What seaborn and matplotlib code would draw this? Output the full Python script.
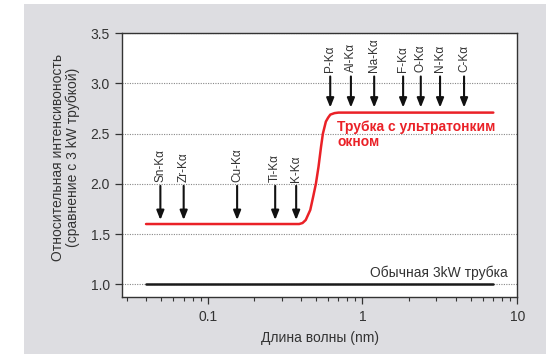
import matplotlib
matplotlib.use("Agg")
import matplotlib.pyplot as plt
from matplotlib.patches import Rectangle
from matplotlib.ticker import FixedLocator, LogLocator, NullFormatter
import seaborn as sns
import pandas as pd

# ---- data ----
red_x = [0.04, 0.39, 0.41, 0.43, 0.46, 0.48, 0.50, 0.52, 0.54, 0.555, 0.58, 0.60, 0.62, 0.66, 0.70, 7.0]
red_y = [1.60, 1.60, 1.61, 1.64, 1.74, 1.87, 2.00, 2.17, 2.37, 2.50, 2.62, 2.66, 2.69, 2.705, 2.71, 2.71]
black_x = [0.04, 7.0]
black_y = [1.0, 1.0]

low_lines = ["Sn-Kα", "Zr-Kα", "Cu-Kα", "Ti-Kα", "K-Kα"]
low_pos = [0.0495, 0.070, 0.155, 0.273, 0.373]
high_lines = ["P-Kα", "Al-Kα", "Na-Kα", "F-Kα", "O-Kα", "N-Kα", "C-Kα"]
high_pos = [0.619, 0.842, 1.19, 1.83, 2.38, 3.17, 4.53]

yticks = [1.0, 1.5, 2.0, 2.5, 3.0, 3.5]
xticks = [0.1, 1, 10]
xtick_labels = ["0.1", "1", "10"]

red_label = "Трубка с ультратонким\nокном"
black_label = "Обычная 3kW трубка"
xlabel = "Длина волны (nm)"
ylabel = "Относительная интенсивоность\n(сравнение с 3 kW трубкой)"

# ---- style ----
sns.set_style("white")
plt.rcParams['font.family'] = ['Liberation Sans', 'DejaVu Sans']
TXT = "#333333"
RED = "#ea2127"

fig = plt.figure(figsize=(5.54, 3.54), dpi=100, facecolor="white")
fig.patches.append(Rectangle((24/554, 0), (546-24)/554, (354-4)/354,
                             transform=fig.transFigure, facecolor="#dddde1",
                             edgecolor="none", zorder=-10))
ax = fig.add_axes([122.3/554, 1-297.3/354, (517.3-122.3)/554, (297.3-33.3)/354])
ax.set_facecolor("white")

df_red = pd.DataFrame({"x": red_x, "y": red_y})
df_blk = pd.DataFrame({"x": black_x, "y": black_y})
sns.lineplot(data=df_red, x="x", y="y", sort=False, estimator=None, color=RED, lw=1.8, ax=ax, zorder=3)
sns.lineplot(data=df_blk, x="x", y="y", sort=False, estimator=None, color="#1a1a1a", lw=1.8, ax=ax, zorder=3)

ax.set_xscale("log")
ax.set_xlim(0.0281, 10)
ax.set_ylim(0.87, 3.5)

ax.xaxis.set_major_locator(FixedLocator(xticks))
ax.set_xticklabels(xtick_labels)
ax.xaxis.set_minor_locator(LogLocator(base=10, subs=range(2, 10)))
ax.xaxis.set_minor_formatter(NullFormatter())
ax.set_yticks(yticks)
ax.set_yticklabels([f"{v:.1f}" for v in yticks])

ax.tick_params(axis="both", which="major", direction="out", length=5, width=0.9,
               color="#333333", labelsize=10, labelcolor=TXT, pad=4)
ax.tick_params(axis="x", which="minor", direction="out", length=3, width=0.8, color="#333333")
ax.tick_params(left=True, bottom=True, which="both")
ax.tick_params(axis="y", which="minor", left=False)

ax.grid(axis="y", which="major", linestyle=(0, (1, 1.2)), color="#888888", lw=0.8, zorder=0)
ax.grid(axis="x", which="both", visible=False)
for s in ax.spines.values():
    s.set_color("#333333")
    s.set_linewidth(1.0)
    s.set_visible(True)

ax.set_xlabel(xlabel, fontsize=10, color=TXT, labelpad=5)
ax.set_ylabel(ylabel, fontsize=10, color=TXT, labelpad=10, linespacing=1.05)
ax.yaxis.set_label_coords(-0.107, 0.53)

arrow_kw = dict(arrowstyle="-|>,head_length=0.55,head_width=0.22", color="#111111", lw=1.5,
                shrinkA=0, shrinkB=0)
for name, x in zip(low_lines, low_pos):
    ax.annotate("", xy=(x, 1.64), xytext=(x, 1.98), arrowprops=arrow_kw, zorder=4)
    ax.text(x, 2.02, name, rotation=90, ha="center", va="bottom", fontsize=8.5, color=TXT)
for name, x in zip(high_lines, high_pos):
    ax.annotate("", xy=(x, 2.76), xytext=(x, 3.07), arrowprops=arrow_kw, zorder=4)
    ax.text(x, 3.11, name, rotation=90, ha="center", va="bottom", fontsize=8.5, color=TXT)

ax.text(0.687, 2.64, red_label, color=RED, fontsize=10, fontweight="bold",
        ha="left", va="top", linespacing=1.1)
ax.text(8.7, 1.045, black_label, color=TXT, fontsize=10, ha="right", va="bottom")

fig.savefig("out.png", dpi=100, facecolor="white")
